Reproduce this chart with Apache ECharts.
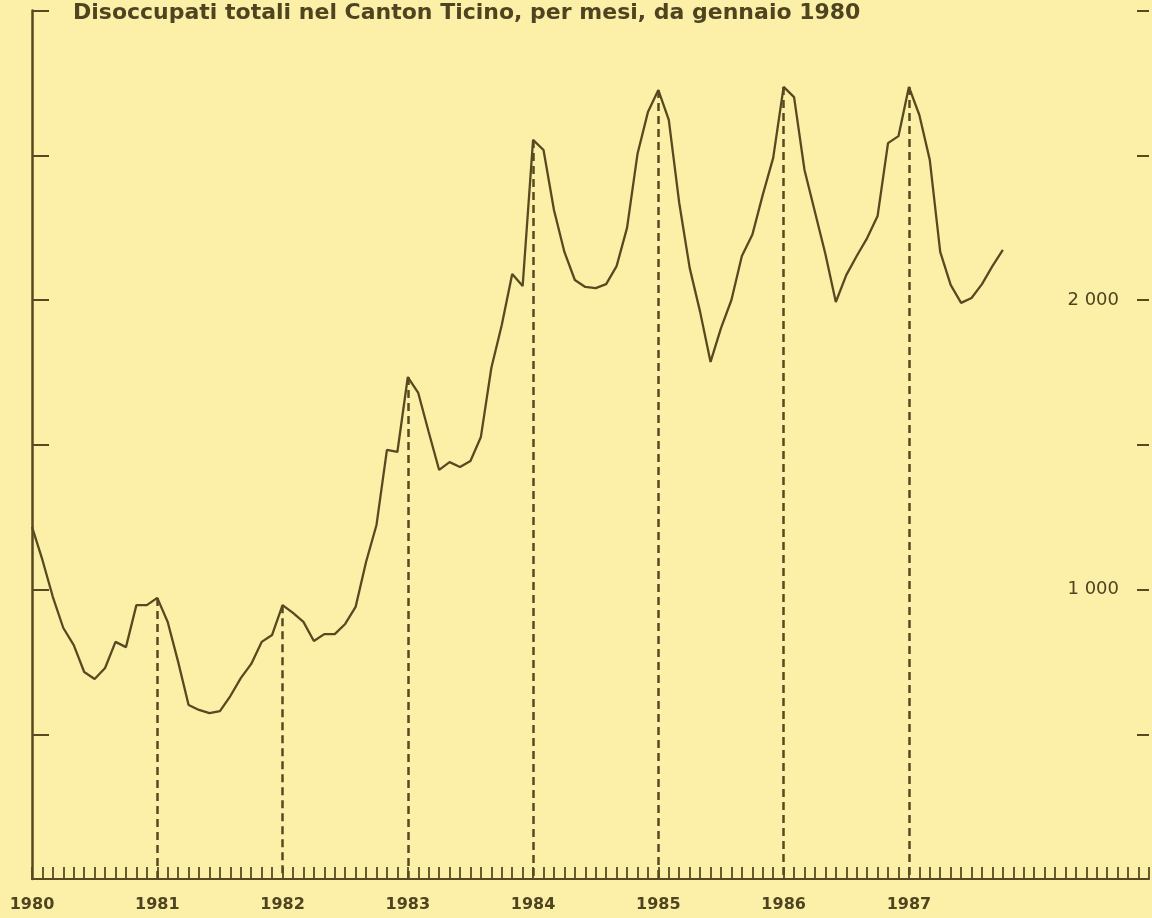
<!DOCTYPE html>
<html>
<head>
<meta charset="utf-8">
<script src="https://cdn.jsdelivr.net/npm/echarts@6/dist/echarts.min.js"></script>
<style>
html,body{margin:0;padding:0;background:#fcf0a8;}
#chart{width:1152px;height:918px;}
</style>
</head>
<body>
<div id="chart"></div>
<script>
// Monthly totals of unemployed, Canton Ticino
const y1980 = [1216, 1102, 974, 867, 808, 715, 691, 729, 819, 801, 946, 946];
const y1981 = [971, 888, 750, 601, 584, 573, 580, 632, 694, 743, 819, 843];
const y1982 = [946, 919, 888, 822, 846, 846, 881, 940, 1095, 1223, 1482, 1475];
const y1983 = [1734, 1679, 1544, 1413, 1440, 1423, 1444, 1527, 1765, 1914, 2090, 2048];
const y1984 = [2553, 2518, 2311, 2166, 2069, 2045, 2041, 2055, 2117, 2249, 2504, 2649];
const y1985 = [2725, 2622, 2335, 2111, 1959, 1786, 1903, 2000, 2152, 2225, 2363, 2491];
const y1986 = [2736, 2701, 2449, 2304, 2159, 1993, 2086, 2152, 2214, 2290, 2542, 2566];
const y1987 = [2736, 2639, 2484, 2166, 2052, 1990, 2007, 2055, 2117, 2173];

const yearLabels = ['1980', '1981', '1982', '1983', '1984', '1985', '1986', '1987'];
const axisYears = [1980, 1981, 1982, 1983, 1984, 1985, 1986, 1987, 1988];
const rightTickValues = [1000, 2000];
const rightTickLabels = ['1 000', '2 000'];
const title = 'Disoccupati totali nel Canton Ticino, per mesi, da gennaio 1980';

const values = [].concat(y1980, y1981, y1982, y1983, y1984, y1985, y1986, y1987);
const categories = [];
axisYears.forEach(y => { for (let m = 1; m <= 12; m++) categories.push(y + '-' + (m < 10 ? '0' + m : m)); });

const ink = '#574a20';
const textInk = '#4f4420';

// dashed verticals from each January peak (except the first) down to the baseline
const dropLines = [];
for (let i = 12; i < values.length; i += 12) {
  dropLines.push([{ coord: [categories[i], values[i]] }, { coord: [categories[i], 0] }]);
}

const chart = echarts.init(document.getElementById('chart'));
chart.setOption({
  backgroundColor: '#fcf0a8',
  animation: false,
  title: {
    text: title,
    left: 68,
    top: -3,
    textStyle: { fontFamily: 'DejaVu Sans', fontWeight: 'bold', fontSize: 22, color: textInk }
  },
  grid: { left: 32, right: 0, top: 10.5, bottom: 39, containLabel: false },
  xAxis: {
    type: 'category',
    data: categories,
    boundaryGap: false,
    axisLine: { show: true, lineStyle: { color: ink, width: 2 } },
    axisTick: { show: true, inside: true, length: 12, interval: 0, lineStyle: { color: ink, width: 1.8 } },
    axisLabel: {
      interval: 0,
      margin: 18,
      fontFamily: 'DejaVu Sans',
      fontWeight: 'bold',
      fontSize: 16,
      color: textInk,
      formatter: (v, idx) => (idx % 12 === 0 && yearLabels[idx / 12]) ? yearLabels[idx / 12] : ''
    },
    splitLine: { show: false }
  },
  yAxis: [
    {
      type: 'value', min: 0, max: 3000, interval: 500, position: 'left',
      axisLine: { show: true, lineStyle: { color: ink, width: 2.5 } },
      axisTick: { show: true, inside: true, length: 17, lineStyle: { color: ink, width: 2 } },
      axisLabel: { show: false },
      splitLine: { show: false }
    },
    {
      type: 'value', min: 0, max: 3000, interval: 500, position: 'right',
      axisLine: { show: false },
      axisTick: { show: true, inside: true, length: 12, lineStyle: { color: ink, width: 2 } },
      axisLabel: {
        show: true, inside: true, margin: 30,
        fontFamily: 'DejaVu Sans', fontSize: 18, color: textInk,
        formatter: v => { const k = rightTickValues.indexOf(v); return k >= 0 ? rightTickLabels[k] : ''; }
      },
      splitLine: { show: false }
    }
  ],
  series: [{
    type: 'line',
    data: values,
    symbol: 'none',
    lineStyle: { color: ink, width: 2.3 },
    markLine: {
      silent: true,
      symbol: ['none', 'none'],
      label: { show: false },
      lineStyle: { color: ink, width: 2.5, type: [8, 5] },
      data: dropLines
    }
  }]
});
</script>
</body>
</html>
